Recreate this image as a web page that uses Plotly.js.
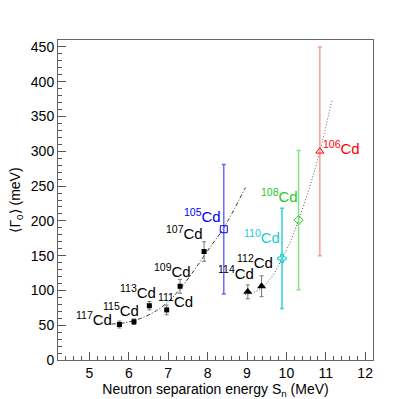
<!DOCTYPE html>
<html>
<head>
<meta charset="utf-8">
<script src="https://cdn.plot.ly/plotly-3.0.1.min.js"></script>
<style>html,body{margin:0;padding:0;background:#fff;}#chart{width:415px;height:399px;}</style>
</head>
<body>
<div id="chart"></div>
<script>
// ---- data ----
// odd-A Cd (filled squares)
const oddLabels = ["117", "115", "113", "111", "109", "107"];
const oddSn     = [5.76, 6.13, 6.52, 6.96, 7.30, 7.91];
const oddGamma  = [51, 55, 78, 72, 106, 156];
const oddErr    = [5, 4, 6, 7, 10, 14];

// even-A Cd (filled triangles)
const evenLabels = ["114", "112"];
const evenSn     = [9.02, 9.37];
const evenGamma  = [98, 106];
const evenErr    = [10, 15];

// coloured points
const colLabels = ["105", "110", "108", "106"];
const colSn     = [8.41, 9.89, 10.31, 10.85];
const colGamma  = [188, 146, 201, 300];
const colErr    = [93, 72, 100, 150];

// fitted curves
const fit1Sn    = [5.56, 5.9, 6.28, 6.70, 7.04, 7.38, 7.72, 8.06, 8.40, 8.96];
const fit1Gamma = [51.7, 53.5, 59.4, 70.9, 86, 107.8, 134, 162, 189, 248];
const fit2Sn    = [8.95, 9.2, 9.4, 9.66, 9.89, 10.1, 10.31, 10.6, 10.85, 11.16];
const fit2Gamma = [94, 98, 105, 122, 146, 170, 201, 250, 300, 374];

// ---- styles / positions ----
const colStyle = [
  {marker: "square-open",       color: "#0000ff", bar: "#6a6aff", text: "#0000ff"},
  {marker: "cross-open",        color: "#00cccc", bar: "#33d6d6", text: "#22cccc"},
  {marker: "diamond-open",      color: "#22cc22", bar: "#88e088", text: "#22cc22"},
  {marker: "triangle-up-open",  color: "#ff0000", bar: "#ff9a9a", text: "#ff0000"}
];
const labelPos = {
  "117": [5.11, 60], "115": [5.81, 73], "113": [6.23, 99], "111": [7.19, 86],
  "109": [7.12, 129], "107": [7.41, 184], "105": [7.87, 208], "114": [8.72, 126],
  "112": [9.20, 141], "110": [9.39, 177], "108": [9.82, 236], "106": [11.41, 305]
};

const FONT = "Liberation Sans, Arial, Helvetica, sans-serif";

const traces = [];
traces.push({x: fit1Sn, y: fit1Gamma, mode: "lines", line: {color: "#333", width: 1, dash: "4px,2px,1px,2px", shape: "spline"}, hoverinfo: "skip"});
traces.push({x: fit2Sn, y: fit2Gamma, mode: "lines", line: {color: "#555", width: 1, dash: "1px,2px", shape: "spline"}, hoverinfo: "skip"});
traces.push({x: oddSn, y: oddGamma, mode: "markers",
  marker: {symbol: "square", size: 5, color: "#000"},
  error_y: {type: "data", array: oddErr, visible: true, color: "#777", thickness: 1, width: 2}});
traces.push({x: evenSn, y: evenGamma, mode: "markers",
  marker: {symbol: "triangle-up", size: 8, color: "#000"},
  error_y: {type: "data", array: evenErr, visible: true, color: "#777", thickness: 1, width: 2}});
colLabels.forEach((lab, i) => {
  const s = colStyle[i];
  traces.push({x: [colSn[i]], y: [colGamma[i]], mode: "markers",
    marker: {symbol: s.marker, size: 7, color: s.color, line: {color: s.color, width: 1}},
    error_y: {type: "data", array: [colErr[i]], visible: true, color: s.bar, thickness: 1.5, width: 2}});
});

const annotations = [];
function addLabel(lab, color) {
  const p = labelPos[lab];
  annotations.push({x: p[0], y: p[1], xref: "x", yref: "y", showarrow: false,
    text: "<sup>" + lab + "</sup>Cd", font: {family: FONT, size: 15, color: color},
    xanchor: "center", yanchor: "middle"});
}
oddLabels.forEach(l => addLabel(l, "#000"));
evenLabels.forEach(l => addLabel(l, "#000"));
colLabels.forEach((l, i) => addLabel(l, colStyle[i].text));

const layout = {
  width: 415, height: 399,
  margin: {l: 58, r: 42, t: 40, b: 39},
  paper_bgcolor: "#fff", plot_bgcolor: "#fff",
  showlegend: false,
  font: {family: FONT, size: 14, color: "#000"},
  xaxis: {
    range: [4.2, 12.2], dtick: 1, tick0: 5,
    ticks: "inside", ticklen: 8, tickcolor: "#555",
    minor: {dtick: 0.2, ticks: "inside", ticklen: 4, tickcolor: "#555"},
    showline: true, linecolor: "#666", mirror: true, showgrid: false, zeroline: false,
    tickfont: {family: FONT, size: 14},
    title: {text: "Neutron separation energy S<sub>n</sub> (MeV)", font: {family: FONT, size: 14}, standoff: 4}
  },
  yaxis: {
    range: [0, 460], dtick: 50,
    ticks: "inside", ticklen: 8, tickcolor: "#555",
    minor: {dtick: 10, ticks: "inside", ticklen: 4, tickcolor: "#555"},
    showline: true, linecolor: "#666", mirror: true, showgrid: false, zeroline: false,
    tickfont: {family: FONT, size: 14},
    title: {text: "⟨Γ<sub>0</sub>⟩ (meV)", font: {family: FONT, size: 14}, standoff: 6}
  },
  annotations: annotations
};

Plotly.newPlot("chart", traces, layout, {displayModeBar: false, staticPlot: true});
</script>
</body>
</html>
